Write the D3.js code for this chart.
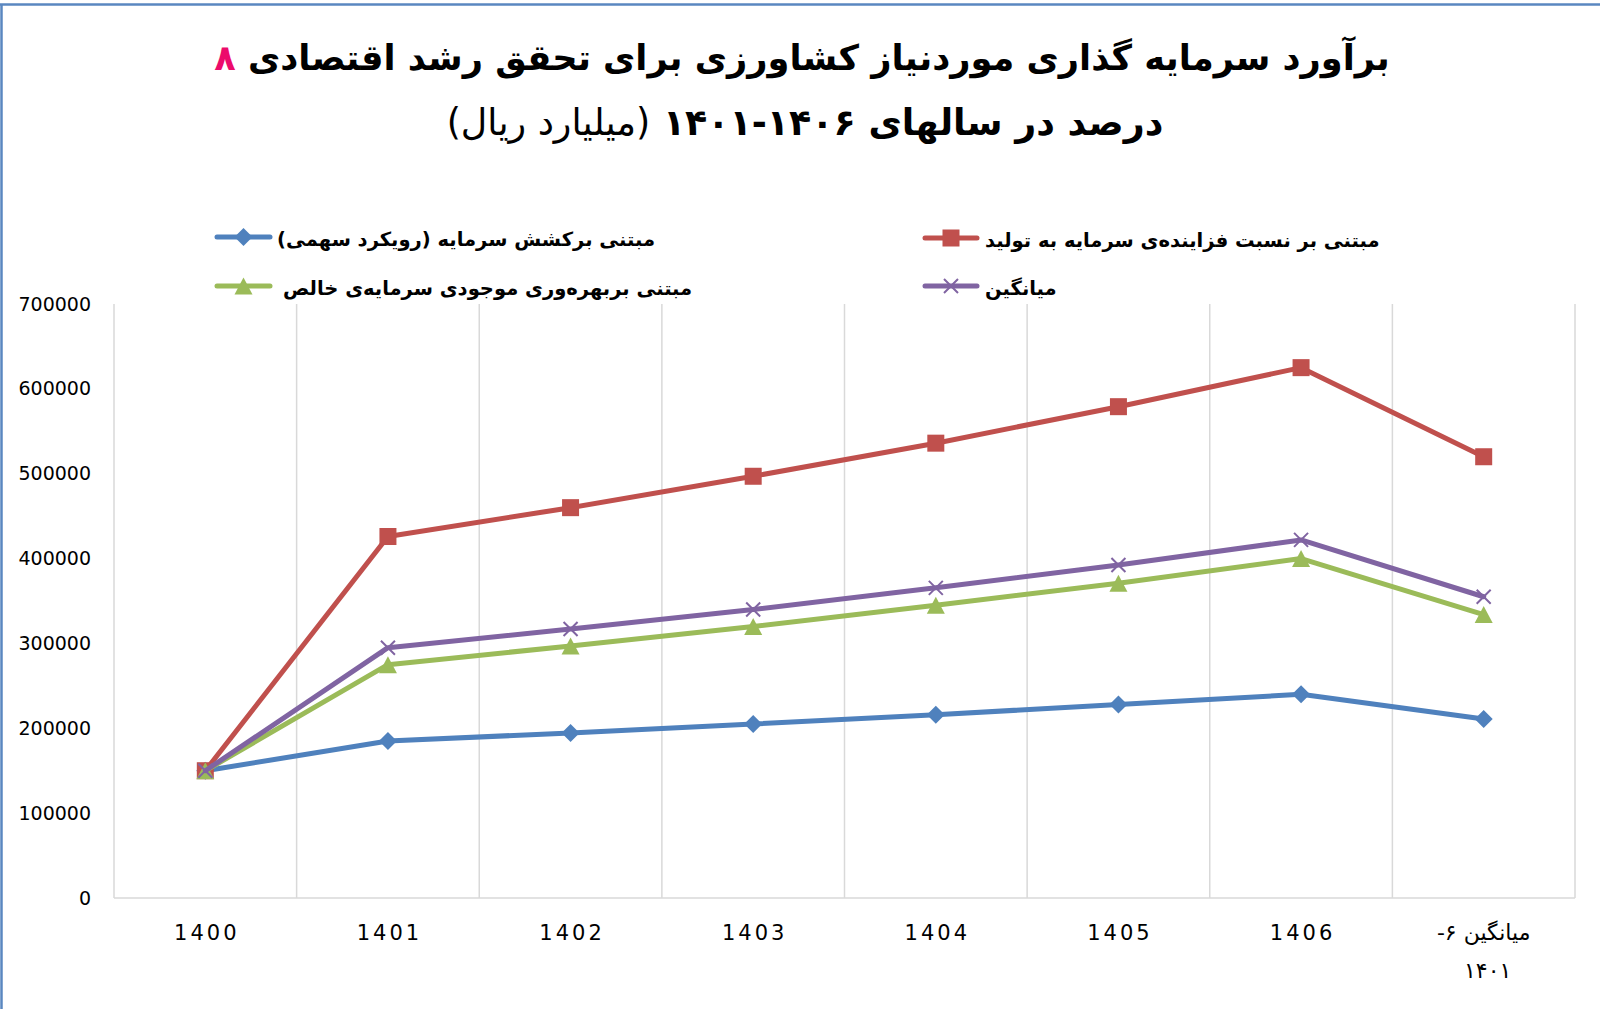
<!DOCTYPE html>
<html><head><meta charset="utf-8">
<script src="https://cdn.jsdelivr.net/npm/d3@7"></script>
<style>body{margin:0;background:#fff} svg{display:block}</style>
</head><body>
<svg id="c" width="1600" height="1009"></svg>
<script>
// ---------- data ----------
const categories = ["1400","1401","1402","1403","1404","1405","1406","میانگین ۱۴۰۱-۱۴۰۶"];
const tickLabelLines = [["1400"],["1401"],["1402"],["1403"],["1404"],["1405"],["1406"],["میانگین ۶-","۱۴۰۱"]];
const seriesNames = [
  "مبتنی برکشش سرمایه (رویکرد سهمی)",
  "مبتنی بر نسبت فزاینده‌ی سرمایه به تولید",
  "مبتنی بربهره‌وری موجودی سرمایه‌ی خالص",
  "میانگین"
];
const blueValues   = [150000,185000,194500,205000,216000,228000,240000,211000];
const redValues    = [150000,426000,460000,497000,536000,579000,625000,520000];
const greenValues  = [150000,275000,297000,320000,345000,371000,400000,334000];
const purpleValues = [150000,295000,317000,340000,365500,392500,422000,355000];
const yTicks = [0,100000,200000,300000,400000,500000,600000,700000];
const titleLine1 = "برآورد سرمایه گذاری موردنیاز کشاورزی برای تحقق رشد اقتصادی ";
const titleNum = "۸";
const titleLine2a = "درصد در سالهای ۱۴۰۶-۱۴۰۱ ";
const titleLine2b = "(میلیارد ریال)";

// ---------- setup ----------
const svg = d3.select("#c");
const FONT = "DejaVu Sans";
const colors = ["#4f81bd","#c0504d","#9bbb59","#8064a2"];
const markers = ["diamond","square","triangle","x"];
const allSeries = [blueValues, redValues, greenValues, purpleValues];

const plot = {left:114, right:1575, top:304, bottom:898};
const x = d3.scaleBand().domain(categories).range([plot.left, plot.right]).padding(0);
const y = d3.scaleLinear().domain([0,700000]).range([plot.bottom, plot.top]);
const cx = c => x(c) + x.bandwidth()/2;

// chart border (top & left visible)
svg.append("line").attr("x1",0).attr("x2",1600).attr("y1",4.5).attr("y2",4.5)
  .attr("stroke","#5a87c0").attr("stroke-width",2.5);
svg.append("line").attr("x1",1.5).attr("x2",1.5).attr("y1",4).attr("y2",1009)
  .attr("stroke","#5a87c0").attr("stroke-width",2.5);

// ---------- title ----------
function fitWidth(sel, target){
  const w = sel.node().getComputedTextLength();
  const fs = parseFloat(sel.attr("font-size"));
  sel.attr("font-size", fs*target/w);
}
const t1 = svg.append("text").attr("x",802).attr("y",70)
  .attr("direction","rtl").attr("text-anchor","middle")
  .attr("font-family",FONT).attr("font-weight","bold").attr("font-size",34).attr("fill","#000");
t1.append("tspan").text(titleLine1);
t1.append("tspan").attr("fill","#ec0b6b").text(titleNum);
fitWidth(t1, 1176);

const t2 = svg.append("text").attr("x",805).attr("y",135)
  .attr("direction","rtl").attr("text-anchor","middle")
  .attr("font-family",FONT).attr("font-size",34).attr("fill","#000");
t2.append("tspan").attr("font-weight","bold").text(titleLine2a);
t2.append("tspan").attr("font-weight","normal").text(titleLine2b);
fitWidth(t2, 717);

// ---------- grid & axes ----------
const g = svg.append("g");
categories.forEach((c,i)=>{
  const xe = x(c) + x.bandwidth();
  g.append("line").attr("x1",xe).attr("x2",xe).attr("y1",plot.top).attr("y2",plot.bottom)
    .attr("stroke","#d9d9d9").attr("stroke-width",1.5);
});
g.append("line").attr("x1",plot.left).attr("x2",plot.left).attr("y1",plot.top).attr("y2",plot.bottom)
  .attr("stroke","#d9d9d9").attr("stroke-width",1.5);
g.append("line").attr("x1",plot.left).attr("x2",plot.right).attr("y1",plot.bottom).attr("y2",plot.bottom)
  .attr("stroke","#d9d9d9").attr("stroke-width",1.5);

// y labels
const yAxis = d3.axisLeft(y).tickValues(yTicks).tickFormat(d3.format("d")).tickSize(0).tickPadding(0);
const ya = svg.append("g").attr("transform",`translate(91,0)`).call(yAxis);
ya.select(".domain").remove();
ya.selectAll("text").attr("font-family",FONT).attr("font-size",19).attr("fill","#000");

// x labels
const xl = svg.append("g");
categories.forEach((c,i)=>{
  const lines = tickLabelLines[i];
  lines.forEach((ln,j)=>{
    const isLatin = /^[0-9]+$/.test(ln);
    const t = xl.append("text")
      .attr("x", cx(c) + (isLatin ? 1.5 : 0))
      .attr("y", 940 + j*38)
      .attr("text-anchor","middle")
      .attr("font-family",FONT).attr("fill","#000");
    if (isLatin) {
      t.attr("font-size",21).attr("letter-spacing","3px").text(ln);
    } else if (j===0) {
      t.attr("direction","rtl").attr("font-size",22).attr("letter-spacing","1px").text(ln);
    } else {
      t.attr("x", cx(c) + 4).attr("direction","rtl").attr("font-size",22).attr("letter-spacing","8px").text(ln);
    }
  });
});

// ---------- marker helper ----------
function drawMarker(sel, type, color, px, py){
  if (type==="diamond"){
    const r=9;
    sel.append("path").attr("d",`M${px},${py-r}L${px+r},${py}L${px},${py+r}L${px-r},${py}Z`).attr("fill",color);
  } else if (type==="square"){
    const s=8.5;
    sel.append("rect").attr("x",px-s).attr("y",py-s).attr("width",2*s).attr("height",2*s).attr("fill",color);
  } else if (type==="triangle"){
    const w=9, h=8.5;
    sel.append("path").attr("d",`M${px},${py-h}L${px+w},${py+h}L${px-w},${py+h}Z`).attr("fill",color);
  } else {
    const s=7;
    sel.append("path").attr("d",`M${px-s},${py-s}L${px+s},${py+s}M${px-s},${py+s}L${px+s},${py-s}`)
      .attr("stroke",color).attr("stroke-width",2).attr("fill","none");
  }
}

// ---------- series ----------
const line = d3.line().x((d,i)=>cx(categories[i])).y(d=>y(d));
allSeries.forEach((vals,k)=>{
  const sg = svg.append("g");
  sg.append("path").datum(vals).attr("d",line).attr("fill","none")
    .attr("stroke",colors[k]).attr("stroke-width",5).attr("stroke-linejoin","round").attr("stroke-linecap","round");
  vals.forEach((v,i)=> drawMarker(sg, markers[k], colors[k], cx(categories[i]), y(v)));
});

// ---------- legend ----------
const legendPos = [
  {x1:217, x2:270, ly:237, tx:277, ty:246},
  {x1:925, x2:977, ly:238, tx:985, ty:247},
  {x1:217, x2:270, ly:286, tx:283, ty:295},
  {x1:925, x2:977, ly:286, tx:985, ty:295}
];
const lg = svg.append("g");
const legTexts = [];
seriesNames.forEach((n,k)=>{
  const p = legendPos[k];
  lg.append("line").attr("x1",p.x1).attr("x2",p.x2).attr("y1",p.ly).attr("y2",p.ly)
    .attr("stroke",colors[k]).attr("stroke-width",5).attr("stroke-linecap","round");
  drawMarker(lg, markers[k], colors[k], (p.x1+p.x2)/2, p.ly);
  const t = lg.append("text").attr("x",p.tx).attr("y",p.ty)
    .attr("direction","rtl").attr("text-anchor","end")
    .attr("font-family",FONT).attr("font-weight","bold").attr("font-size",20).attr("fill","#000")
    .text(n);
  legTexts.push(t);
});
// common legend size fitted on the longest entry
const wRed = legTexts[1].node().getComputedTextLength();
const fsL = 20*395/wRed;
legTexts.forEach(t=>t.attr("font-size",fsL));
</script>
</body></html>
